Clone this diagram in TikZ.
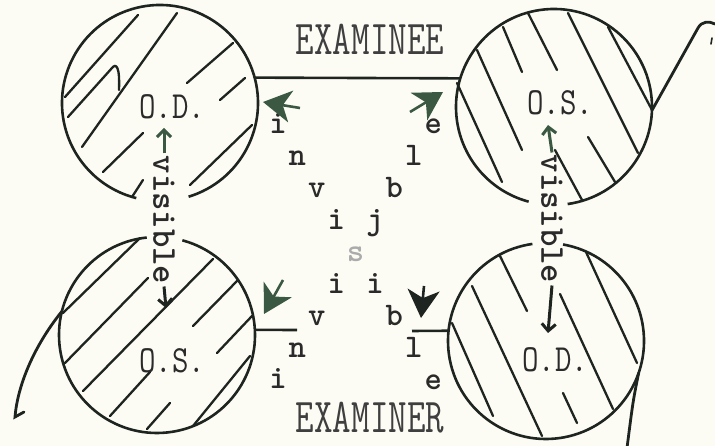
\documentclass[tikz,border=0pt]{standalone}
\usepackage{tikz}
\usetikzlibrary{arrows.meta,positioning,calc}
\definecolor{Paper}{HTML}{FDFCF4}
\definecolor{Ink}{HTML}{1E241F}
\definecolor{Moss}{HTML}{3A5842}
\definecolor{TypeGray}{HTML}{2A2A2A}
\definecolor{Faint}{HTML}{ABABAB}
\newcommand{\tallcaps}[2][1.3]{\scalebox{1}[#1]{#2}}

\begin{document}
\begin{tikzpicture}[
    x=1pt, y=1pt,
    eye/.style={circle, inner sep=0pt, outer sep=0pt, minimum size=196pt},
    rim/.style={draw=Ink, line width=2.6pt},
    hatch/.style={draw=Ink, line width=2.3pt, line cap=round},
    eyelabel/.style={font=\fontsize{32}{32}\selectfont\ttfamily, text=TypeGray, inner sep=1pt},
    role/.style={font=\fontsize{36}{36}\selectfont\ttfamily, text=TypeGray!90, inner sep=1pt},
    letter/.style={font=\fontsize{33}{33}\selectfont\ttfamily\bfseries, text=TypeGray, inner sep=0pt, anchor=base},
    seen/.style={font=\fontsize{35}{35}\selectfont\ttfamily\bfseries, text=TypeGray, rotate=-90, inner sep=2pt},
    seenarr/.style={-{Straight Barb[length=7pt, width=14pt]}, line width=3pt, draw=Ink},
    blob/.style={-{Stealth[length=28pt, width=32pt, inset=8pt]}, line width=2.6pt, draw=Moss},
    sketch/.style={draw=Ink, line width=2.8pt, line cap=round}
]
% paper
\fill[Paper] (0,0) rectangle (715,446);
\useasboundingbox (0,0) rectangle (715,446);

% the four eyes, open where "visible" passes
\node[eye] (cTL) at (160,343) {};
\node[eye] (cTR) at (554,339) {};
\node[eye] (cBL) at (157,111) {};
\node[eye] (cBR) at (546,105) {};
\draw[rim] (cTL.287) arc[start angle=287, end angle=616, radius=98];
\draw[rim] (cTR.278) arc[start angle=278, end angle=615, radius=98];
\draw[rim] (cBL.96) arc[start angle=96, end angle=435, radius=98];
\draw[rim] (cBR.98) arc[start angle=98, end angle=440, radius=98];

% hatching, examinee O.D.
\draw[hatch] (65,349) -- (138,431);
\draw[hatch] (68,329) -- (112,378) .. controls (116,383) and (120,380) .. (119,356);
\draw[hatch] (82,299) -- (177,433);
\draw[hatch] (187,363) -- (233,403);
\draw[hatch] (220,346) -- (245,368);
\draw[hatch] (103,274) -- (143,313);
\draw[hatch] (132,249) -- (143,266);
\draw[hatch] (190,261) -- (252,321);
% hatching, examinee O.S.
\draw[hatch] (457,363) -- (502,264);
\draw[hatch] (477,396) -- (522,296);
\draw[hatch] (503,419) -- (522,374);
\draw[hatch] (528,433) -- (557,376);
\draw[hatch] (568,433) -- (638,293);
\draw[hatch] (608,419) -- (652,336);
\draw[hatch] (588,309) -- (615,264);
\draw[hatch] (555,296) -- (582,246);
% hatching, examiner O.S.
\draw[hatch] (63,133) -- (140,208);
\draw[hatch] (65,83) -- (148,168);
\draw[hatch] (83,55) -- (213,187);
\draw[hatch] (110,30) -- (150,74);
\draw[hatch] (147,17) -- (170,43);
\draw[hatch] (193,120) -- (238,166);
\draw[hatch] (217,93) -- (252,130);
\draw[hatch] (193,20) -- (250,90);
% hatching, examiner O.D.
\draw[hatch] (452,123) -- (493,30);
\draw[hatch] (472,160) -- (542,10);
\draw[hatch] (500,190) -- (527,135);
\draw[hatch] (560,152) -- (613,37);
\draw[hatch] (586,194) -- (637,83);
\draw[hatch] (563,53) -- (577,23);

% eye labels
\node[eyelabel] (odTL) at (172,339) {\tallcaps[1.2]{O.D.}};
\node[eyelabel] (osTR) at (560,343) {\tallcaps[1.2]{O.S.}};
\node[eyelabel] (osBL) at (172,85) {\tallcaps[1.2]{O.S.}};
\node[eyelabel] (odBR) at (555,86) {\tallcaps[1.2]{O.D.}};

% who sits where
\node[role] (examinee) at (370,407) {\tallcaps[1.35]{EXAMINEE}};
\node[role] (examiner) at (370,28) {\tallcaps[1.35]{EXAMINER}};
\draw[rim] (cTL.15) -- (cTR.163);
\coordinate (stubL) at (297,116);
\coordinate (stubR) at (412,115);
\draw[rim] (cBL.3) -- (stubL);
\draw[rim] (stubR) -- (cBR.174);

% same side: visible
\node[seen] (visL) at (164,226) {visible};
\node[seen] (visR) at (552,227) {visible};
\coordinate (visLup) at (164,318);
\coordinate (visLdn) at (166,138);
\coordinate (visRup) at (548,321);
\coordinate (visRdn) at (548,113);
\draw[seenarr, draw=Moss] (visL.west) -- (visLup);
\draw[seenarr] (visL.east) -- (visLdn);
\draw[seenarr, draw=Moss] (visR.west) -- (visRup);
\draw[seenarr] (visR.east) -- (visRdn);

% crossed: invisible, typed along both diagonals
\foreach \ch/\k in {i/0,n/1,v/2,i/3,i/5,b/6,l/7,e/8}
  \node[letter] (down-\k) at ({278+19.4*\k}, {312-31.9*\k}) {\ch};
\foreach \ch/\k in {i/0,n/1,v/2,i/3,j/5,b/6,l/7,e/8}
  \node[letter] (up-\k) at ({278+19.4*\k}, {57+31.9*\k}) {\ch};
\node[letter, text=Faint] (mid-s) at (355.6,184.4) {s};

% inked heads at the ends of the diagonals
\coordinate (tlTail) at (300,338); \coordinate (tlTip) at (263,344);
\coordinate (trTail) at (410,334); \coordinate (trTip) at (443,354);
\coordinate (blTail) at (283,166); \coordinate (blTip) at (264,132);
\coordinate (brTail) at (424,160); \coordinate (brTip) at (421,128);
\draw[blob] (tlTail) -- (tlTip);
\draw[blob] (trTail) -- (trTip);
\draw[blob] (blTail) -- (blTip);
\draw[blob, draw=Ink] (brTail) -- (brTip);

% loose pen strokes round the page
\coordinate (browTop) at (698,418);
\coordinate (browEnd) at (715,422);
\coordinate (cheekEnd) at (627,-2);
\coordinate (tailEnd) at (15,29);
\coordinate (tailHook) at (24,34);
\draw[sketch] (cTR.-2) -- (browTop) .. controls (702,425) and (709,425) .. (browEnd);
\draw[sketch] (cBR.-19) .. controls (633,45) .. (cheekEnd);
\draw[sketch] (cBL.166) .. controls (30,95) and (17,55) .. (tailEnd) -- (tailHook);
\draw[sketch, line width=1.6pt] (711,402) -- (712,408);

\end{tikzpicture}
\end{document}
